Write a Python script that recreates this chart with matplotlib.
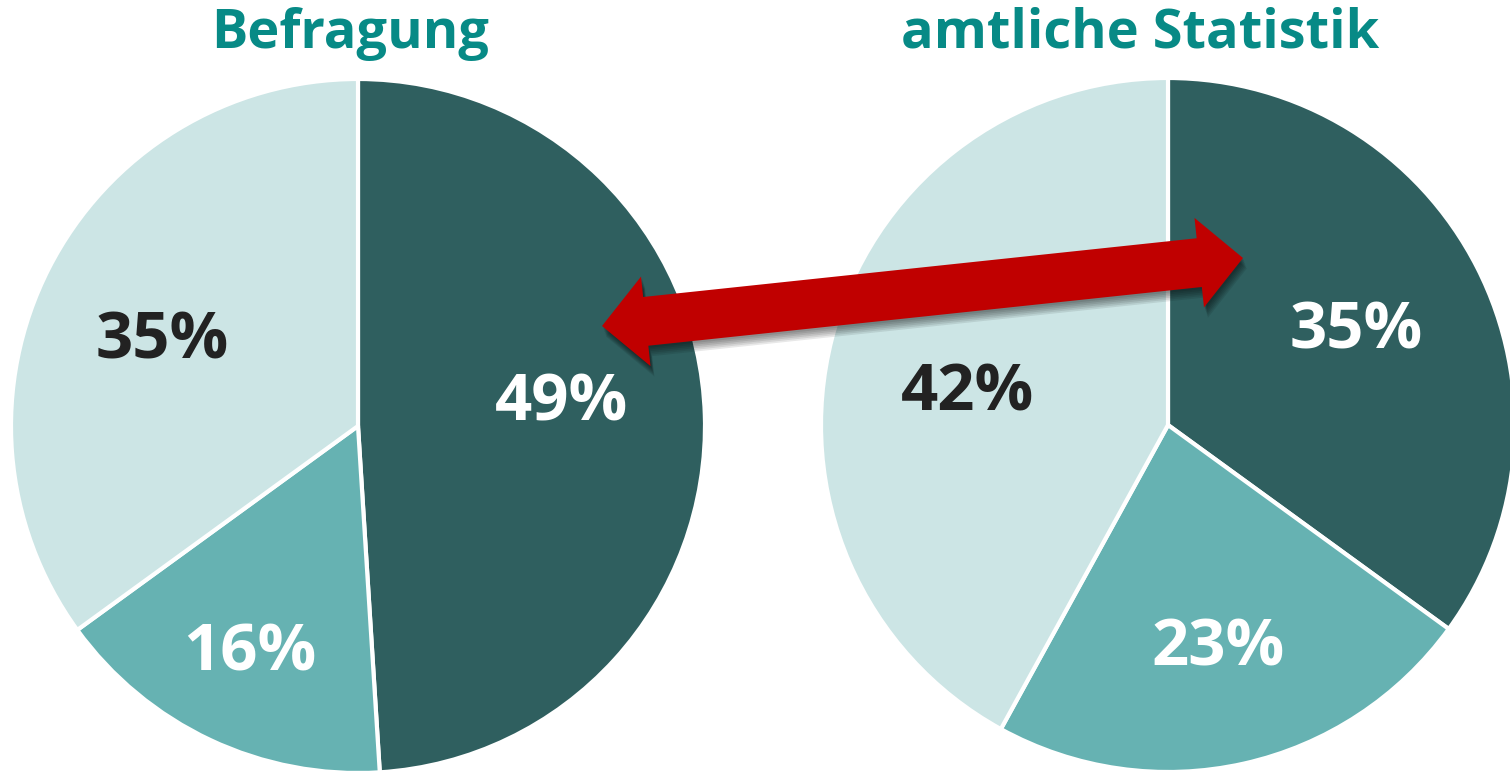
import numpy as np
import matplotlib.pyplot as plt
from matplotlib.patches import Polygon
import matplotlib.patheffects as pe

plt.rcParams['font.family'] = ['Open Sans', 'DejaVu Sans']

titles = ["Befragung", "amtliche Statistik"]
slice_names = ["dunkel", "mittel", "hell"]
befragung = [49, 16, 35]
amtlich = [35, 23, 42]
colors = ["#2F5F5F", "#66B2B2", "#CCE5E5"]
text_colors = ["white", "white", "#222222"]

W, H = 1510, 772
fig = plt.figure(figsize=(W / 100, H / 100), dpi=100)
ax = fig.add_axes([0, 0, 1, 1])

pies = [
    (befragung, (358, 346), 347, [(562, 368), (250, 118), (162, 430)], (350, 738)),
    (amtlich, (1168, 347), 347, [(1356, 440), (1218, 123), (967, 378)], (1140, 738)),
]

for (vals, center, r, label_pos, title_pos), title in zip(pies, titles):
    ax.pie(vals, colors=colors, startangle=90, counterclock=False,
           center=center, radius=r, frame=True,
           wedgeprops=dict(edgecolor="white", linewidth=3))
    for v, (lx, ly), tc in zip(vals, label_pos, text_colors):
        ax.text(lx, ly, f"{v}%", ha="center", va="center", fontsize=47,
                fontweight="bold", color=tc)
    ax.text(title_pos[0], title_pos[1], title, ha="center", va="center",
            fontsize=39, fontweight="bold", color="#078A86")

ax.set_xlim(0, W)
ax.set_ylim(0, H)
ax.set_aspect("equal")
ax.axis("off")


def double_arrow(p0, p1, width, head_width, head_len):
    p0, p1 = np.array(p0, float), np.array(p1, float)
    d = (p1 - p0) / np.linalg.norm(p1 - p0)
    n = np.array([-d[1], d[0]])
    b0, b1 = p0 + d * head_len, p1 - d * head_len
    w, hw = width / 2, head_width / 2
    return np.array([
        p0, b0 + n * hw, b0 + n * w, b1 + n * w, b1 + n * hw, p1,
        b1 - n * hw, b1 - n * w, b0 - n * w, b0 - n * hw,
    ])


# double arrow between the two dark slices, with a soft drop shadow
pts = double_arrow((602, H - 326), (1243, H - 258), 49, 90, 44)
arrow = Polygon(pts, closed=True, facecolor="#C00000", edgecolor="none", zorder=5)
soft = [pe.SimplePatchShadow(offset=(0.8 + 0.4 * i, -1.5 - 1.2 * i),
                             shadow_rgbFace="black", alpha=0.09) for i in range(6)]
arrow.set_path_effects(soft + [pe.Normal()])
ax.add_patch(arrow)

fig.savefig("out.png", dpi=100)
